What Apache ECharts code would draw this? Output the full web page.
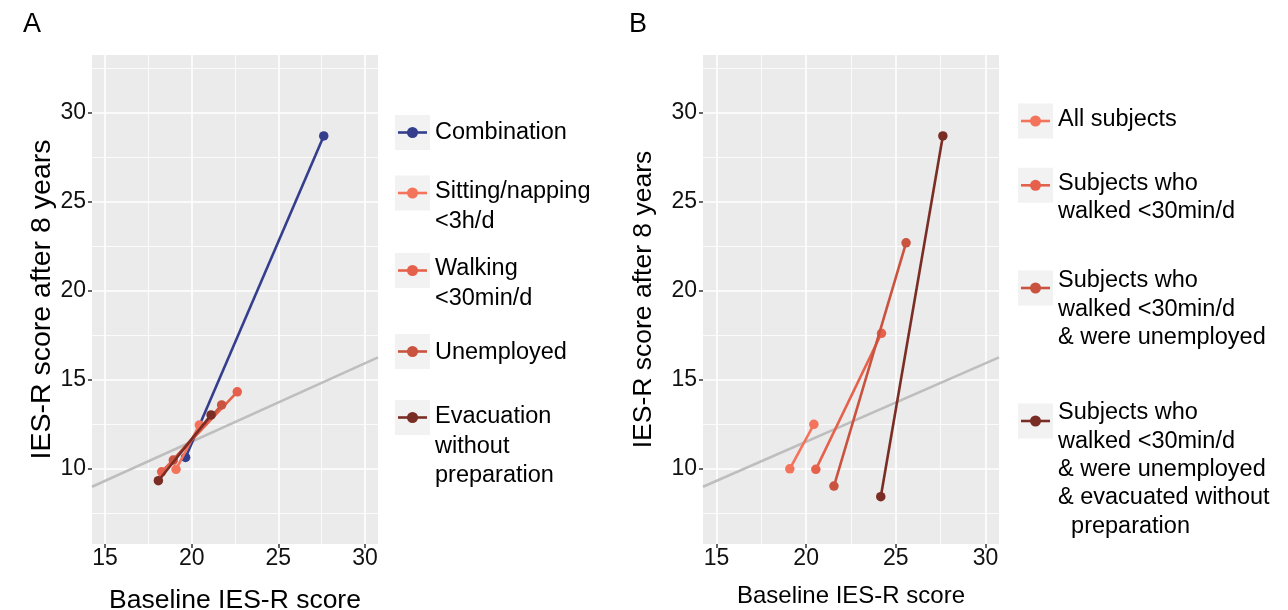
<!DOCTYPE html>
<html><head><meta charset="utf-8">
<script src="https://cdn.jsdelivr.net/npm/echarts@6/dist/echarts.min.js"></script>
<style>html,body{margin:0;padding:0;background:#fff}#c{width:1288px;height:610px}</style>
</head><body><div id="c"></div>
<script>
// ---------- data ----------
const xTicks = [15, 20, 25, 30];
const yTicks = [10, 15, 20, 25, 30];
const xMinor = [17.5, 22.5, 27.5];
const yMinor = [7.5, 12.5, 17.5, 22.5, 27.5, 32.5];

const namesA = ['Combination', 'Sitting/napping\n<3h/d', 'Walking\n<30min/d', 'Unemployed', 'Evacuation\nwithout\npreparation'];
const baselineA = [[19.65, 27.62], [19.1, 20.44], [18.27, 22.63], [18.94, 21.73], [18.08, 21.12]];
const after8A   = [[10.62, 28.7], [9.95, 12.44], [9.81, 14.31], [10.47, 13.57], [9.31, 13.01]];

const namesB = ['All subjects', 'Subjects who\nwalked <30min/d', 'Subjects who\nwalked <30min/d\n& were unemployed', 'Subjects who\nwalked <30min/d\n& were unemployed\n& evacuated without\n  preparation'];
const baselineB = [[19.09, 20.43], [20.54, 24.2], [21.55, 25.57], [24.16, 27.62]];
const after8B   = [[9.98, 12.48], [9.95, 17.6], [9.01, 22.69], [8.41, 28.7]];

const refLineX = [14.25, 30.75];
const refLineY = [8.97, 16.25];

const xLimits = [14.25, 30.75];
const yLimits = [5.75, 33.25];

// ---------- styles ----------
const colorsA = ['#343E8D', '#F4735B', '#E6614B', '#C9533F', '#7A2D24'];
const colorsB = ['#F4735B', '#E6614B', '#C9533F', '#7A2D24'];
const FONT = '"Liberation Sans", Arial, Helvetica, sans-serif';

function xAx(gi, nameSize, nameGap) {
  return {
    type: 'value', gridIndex: gi, min: xLimits[0], max: xLimits[1],
    name: 'Baseline IES-R score', nameLocation: 'middle', nameGap: nameGap,
    nameTextStyle: { fontSize: nameSize, color: '#000', fontFamily: FONT },
    axisLine: { show: false }, splitLine: { show: false },
    axisTick: { show: true, length: 4, customValues: xTicks, lineStyle: { color: '#333', width: 1.5 } },
    axisLabel: { customValues: xTicks, fontSize: 23, color: '#111', margin: 3, fontFamily: FONT }
  };
}
function yAx(gi, nameSize, nameGap) {
  return {
    type: 'value', gridIndex: gi, min: yLimits[0], max: yLimits[1],
    name: 'IES-R score after 8 years', nameLocation: 'middle', nameGap: nameGap,
    nameTextStyle: { fontSize: nameSize, color: '#000', fontFamily: FONT },
    axisLine: { show: false }, splitLine: { show: false },
    axisTick: { show: true, length: 4, customValues: yTicks, lineStyle: { color: '#333', width: 1.5 } },
    axisLabel: { customValues: yTicks, fontSize: 23, color: '#111', margin: 6, fontFamily: FONT }
  };
}
function gridLines(gi) {
  const d = [];
  xTicks.forEach(v => d.push({ xAxis: v, lineStyle: { width: 1.6 } }));
  xMinor.forEach(v => d.push({ xAxis: v, lineStyle: { width: 0.8 } }));
  yTicks.forEach(v => d.push({ yAxis: v, lineStyle: { width: 1.6 } }));
  yMinor.forEach(v => d.push({ yAxis: v, lineStyle: { width: 0.8 } }));
  return {
    type: 'line', name: 'grid' + gi, xAxisIndex: gi, yAxisIndex: gi, data: [], silent: true,
    markLine: { silent: true, z: 1, symbol: ['none', 'none'], label: { show: false },
      lineStyle: { color: '#fff', type: 'solid' }, emphasis: { disabled: true }, data: d }
  };
}
function refSeries(gi) {
  return {
    type: 'line', name: 'ref' + gi, xAxisIndex: gi, yAxisIndex: gi, z: 2, silent: true,
    data: refLineX.map((x, i) => [x, refLineY[i]]), showSymbol: false, symbol: 'none',
    lineStyle: { color: '#BEBEBE', width: 2.5 }
  };
}
function dataSeries(gi, names, bx, ay, colors) {
  return names.map((n, i) => ({
    type: 'line', name: n, xAxisIndex: gi, yAxisIndex: gi, z: 3 + i,
    data: bx[i].map((x, j) => [x, ay[i][j]]),
    symbol: 'circle', symbolSize: 9.5, showSymbol: true,
    itemStyle: { color: colors[i] }, lineStyle: { color: colors[i], width: 2.6 }
  }));
}

// ---------- legends (drawn as graphics) ----------
const graphics = [];
function addKey(boxX, boxCy, color, textX, firstCy, label, lh, fs) {
  graphics.push({ type: 'rect', shape: { x: boxX, y: boxCy - 17.5, width: 35, height: 35 }, style: { fill: '#F2F2F2' } });
  graphics.push({ type: 'line', shape: { x1: boxX + 3, y1: boxCy, x2: boxX + 32, y2: boxCy }, style: { stroke: color, lineWidth: 2.6 } });
  graphics.push({ type: 'circle', shape: { cx: boxX + 17.5, cy: boxCy, r: 5.5 }, style: { fill: color } });
  graphics.push({ type: 'text', x: textX, y: firstCy - lh / 2,
    style: { text: label, fontSize: fs, fontFamily: FONT, fill: '#000', lineHeight: lh, verticalAlign: 'top', align: 'left' } });
}
const keyCyA = [132.5, 193, 270.5, 351.5, 417.5];
const textCyA = [132.3, 191.7, 269, 352.3, 416.7];
namesA.forEach((n, i) => addKey(395, keyCyA[i], colorsA[i], 435, textCyA[i], n, 29.5, 23.5));
const keyCyB = [121, 185.3, 288, 421];
const textCyB = [120, 183.3, 280.7, 412.7];
namesB.forEach((n, i) => addKey(1018, keyCyB[i], colorsB[i], 1058, textCyB[i], n, 28.4, 23.5));

graphics.push({ type: 'text', x: 32, y: 25, style: { text: 'A', fontSize: 27, fontFamily: FONT, fill: '#000', align: 'center', verticalAlign: 'middle' } });
graphics.push({ type: 'text', x: 638, y: 25, style: { text: 'B', fontSize: 27, fontFamily: FONT, fill: '#000', align: 'center', verticalAlign: 'middle' } });

const option = {
  animation: false,
  backgroundColor: '#fff',
  grid: [
    { left: 92, top: 55, width: 286, height: 489, show: true, backgroundColor: '#EBEBEB', borderWidth: 0, containLabel: false, outerBoundsMode: 'none' },
    { left: 703, top: 55, width: 296, height: 489, show: true, backgroundColor: '#EBEBEB', borderWidth: 0, containLabel: false, outerBoundsMode: 'none' }
  ],
  xAxis: [xAx(0, 26.5, 43), xAx(1, 24, 40)],
  yAxis: [yAx(0, 28.5, 34), yAx(1, 26.5, 46)],
  series: [
    gridLines(0), gridLines(1), refSeries(0), refSeries(1),
    ...dataSeries(0, namesA, baselineA, after8A, colorsA),
    ...dataSeries(1, namesB, baselineB, after8B, colorsB)
  ],
  graphic: graphics
};
const chart = echarts.init(document.getElementById('c'), null, { renderer: 'canvas' });
chart.setOption(option);
</script>
</body></html>
